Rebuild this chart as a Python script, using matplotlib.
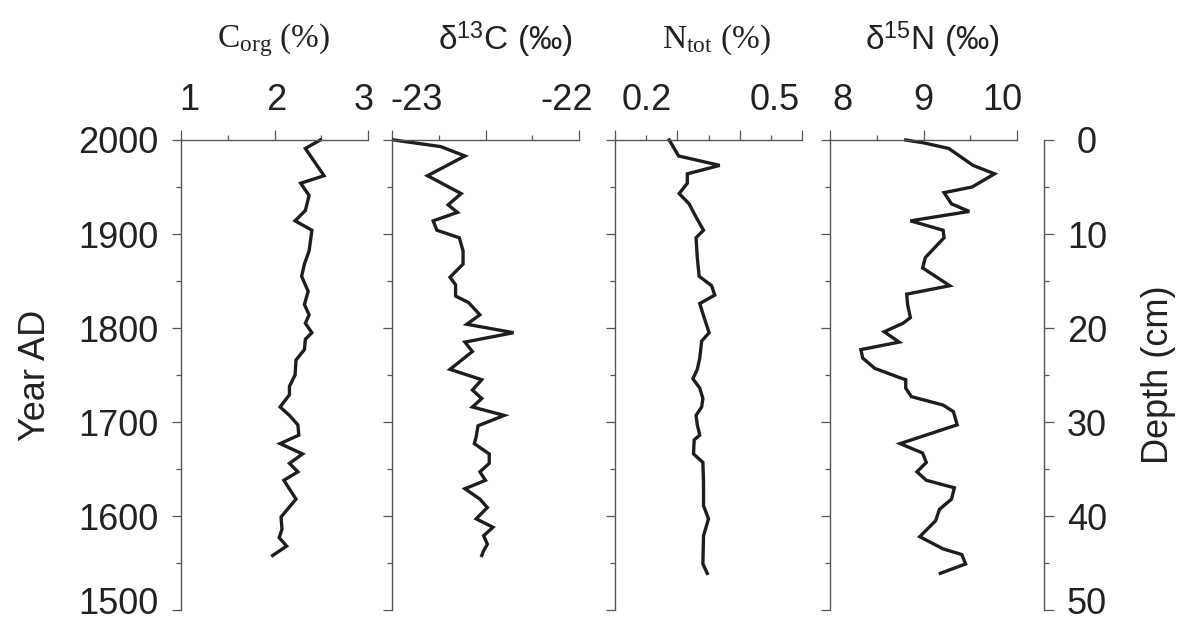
import matplotlib
matplotlib.use('Agg')
import matplotlib.pyplot as plt
from matplotlib.ticker import MultipleLocator, FixedLocator
from matplotlib.transforms import ScaledTranslation

plt.rcParams['font.family'] = ['Liberation Sans', 'DejaVu Sans']
plt.rcParams['mathtext.fontset'] = 'custom'
plt.rcParams['mathtext.rm'] = 'Liberation Serif'
plt.rcParams['mathtext.sf'] = 'Liberation Sans'
plt.rcParams['mathtext.it'] = 'Liberation Serif:italic'

# ---------------- data ----------------
corg_year = [2000, 1991, 1962, 1954, 1941, 1925, 1914, 1904, 1882, 1868, 1855, 1839, 1825,
             1814, 1805, 1795, 1788, 1777, 1766, 1750, 1738, 1729, 1716, 1707, 1697, 1686,
             1677, 1666, 1656, 1647, 1638, 1618, 1599, 1586, 1577, 1568, 1558]
corg = [2.49, 2.33, 2.53, 2.28, 2.37, 2.33, 2.22, 2.40, 2.37, 2.32, 2.29, 2.36, 2.32,
        2.37, 2.33, 2.40, 2.33, 2.32, 2.23, 2.22, 2.16, 2.16, 2.06, 2.16, 2.25, 2.26,
        2.06, 2.30, 2.16, 2.25, 2.10, 2.23, 2.07, 2.08, 2.05, 2.13, 1.98]

d13c_year = [2000, 1993, 1983, 1962, 1943, 1931, 1923, 1914, 1904, 1896, 1882, 1868, 1854,
             1846, 1834, 1827, 1814, 1804, 1795, 1785, 1775, 1756, 1745, 1734, 1725, 1716,
             1707, 1696, 1684, 1677, 1666, 1656, 1647, 1638, 1629, 1618, 1609, 1597, 1588,
             1579, 1570, 1563, 1558]
d13c = [-22.99, -22.74, -22.61, -22.81, -22.63, -22.70, -22.65, -22.78, -22.76, -22.64,
        -22.62, -22.62, -22.69, -22.66, -22.66, -22.59, -22.53, -22.60, -22.35, -22.61,
        -22.57, -22.69, -22.52, -22.57, -22.52, -22.57, -22.40, -22.54, -22.55, -22.56,
        -22.48, -22.48, -22.53, -22.50, -22.61, -22.53, -22.49, -22.55, -22.46, -22.51,
        -22.49, -22.51, -22.52]

ntot_year = [2000, 1983, 1973, 1964, 1954, 1943, 1932, 1918, 1904, 1896, 1875, 1855, 1845,
             1835, 1826, 1811, 1795, 1786, 1768, 1756, 1746, 1736, 1725, 1716, 1707, 1697,
             1686, 1681, 1666, 1657, 1636, 1611, 1597, 1579, 1549, 1539]
ntot = [0.287, 0.302, 0.368, 0.316, 0.316, 0.303, 0.319, 0.330, 0.342, 0.330, 0.332, 0.335,
        0.355, 0.360, 0.336, 0.343, 0.351, 0.339, 0.336, 0.332, 0.325, 0.336, 0.341, 0.339,
        0.330, 0.332, 0.336, 0.327, 0.326, 0.341, 0.342, 0.342, 0.350, 0.342, 0.341, 0.348]

d15n_year = [2000, 1997, 1991, 1973, 1964, 1950, 1944, 1932, 1924, 1914, 1904, 1896, 1875,
             1864, 1845, 1836, 1825, 1811, 1805, 1796, 1785, 1777, 1768, 1757, 1747, 1745,
             1736, 1727, 1718, 1711, 1697, 1677, 1667, 1657, 1647, 1638, 1630, 1618, 1607,
             1595, 1578, 1565, 1559, 1549, 1539]
d15n = [8.81, 9.00, 9.27, 9.53, 9.76, 9.52, 9.22, 9.30, 9.49, 8.86, 9.21, 9.22, 9.02,
        8.99, 9.28, 8.82, 8.83, 8.86, 8.78, 8.58, 8.74, 8.33, 8.35, 8.48, 8.75, 8.81,
        8.81, 8.87, 9.21, 9.32, 9.36, 8.75, 8.99, 9.03, 8.93, 9.03, 9.33, 9.30, 9.17,
        9.13, 8.96, 9.21, 9.41, 9.45, 9.18]

titles = [r'C$_{\mathrm{org}}$ (%)', r'δ$^{\mathsf{13}}$C (‰)',
          r'N$_{\mathrm{tot}}$ (%)', r'δ$^{\mathsf{15}}$N (‰)']
title_fonts = ['Liberation Serif', 'Liberation Sans', 'Liberation Serif', 'Liberation Sans']
xlims = [(1, 3), (-23, -22), (0.2, 0.5), (8, 10)]
major_ticks = [[1, 2, 3], [-23, -22.5, -22], [0.2, 0.3, 0.4, 0.5], [8, 9, 10]]
minor_ticks = [[1.5, 2.5], [-22.75, -22.25], [0.25, 0.35, 0.45], [8.5, 9.5]]
labeled = [{1: '1', 2: '2', 3: '3'}, {-23: '-23', -22: '-22'},
           {0.2: '0.2', 0.5: '0.5'}, {8: '8', 9: '9', 10: '10'}]
label_shift_px = [{1: 8, 2: 2, 3: -4}, {-23: 25, -22: -12},
                  {0.2: 32, 0.5: -27}, {8: 12, 9: 0, 10: -15}]
year_ticks = [2000, 1900, 1800, 1700, 1600, 1500]
depth_ticks = [0, 10, 20, 30, 40, 50]

series = [(corg, corg_year), (d13c, d13c_year), (ntot, ntot_year), (d15n, d15n_year)]

# ---------------- layout ----------------
W, H = 1179, 623
fig = plt.figure(figsize=(W / 100, H / 100), dpi=100)
panel_left_px = [181, 392, 615, 830]
panel_w_px = 187
top_px, bot_px = 140, 610
title_x_px = [274, 505, 716, 932]

spine_col = '#555555'
line_col = '#1e1e1e'
text_col = '#222222'


def nudge_up(label, px):
    label.set_transform(label.get_transform() + ScaledTranslation(0, px / 100, fig.dpi_scale_trans))


axes = []
for i in range(4):
    ax = fig.add_axes([panel_left_px[i] / W, 1 - bot_px / H, panel_w_px / W, (bot_px - top_px) / H])
    vals, yrs = series[i]
    ax.plot(vals, yrs, color=line_col, lw=2.4, solid_joinstyle='miter', clip_on=False)
    ax.set_xlim(*xlims[i])
    ax.set_ylim(1500, 2000)
    for s in ['right', 'bottom']:
        ax.spines[s].set_visible(False)
    for s in ['left', 'top']:
        ax.spines[s].set_color(spine_col)
        ax.spines[s].set_linewidth(1.0)
    ax.xaxis.set_ticks_position('top')
    ax.xaxis.set_label_position('top')
    ax.xaxis.set_major_locator(FixedLocator(major_ticks[i]))
    ax.xaxis.set_minor_locator(FixedLocator(minor_ticks[i]))
    ax.set_xticklabels([labeled[i].get(t, '') for t in major_ticks[i]])
    ax.tick_params(axis='x', which='major', direction='out', length=7, width=0.9,
                   color=spine_col, labelsize=26, pad=9, labelcolor=text_col)
    ax.tick_params(axis='x', which='minor', direction='out', length=3.5, width=0.9,
                   color=spine_col)
    for t, lab in zip(major_ticks[i], ax.get_xticklabels()):
        dx = label_shift_px[i].get(t, 0)
        lab.set_transform(lab.get_transform() + ScaledTranslation(dx / 100, 0, fig.dpi_scale_trans))

    ax.yaxis.set_major_locator(FixedLocator(year_ticks))
    ax.yaxis.set_minor_locator(MultipleLocator(50))
    ax.tick_params(axis='y', which='major', direction='out', length=6.5, width=0.9,
                   color=spine_col, labelsize=26, pad=10, labelcolor=text_col)
    ax.tick_params(axis='y', which='minor', direction='out', length=3.5, width=0.9,
                   color=spine_col)
    if i == 0:
        ax.set_ylabel('Year AD', fontsize=26, labelpad=18, color=text_col)
        for t, lab in zip(year_ticks, ax.get_yticklabels()):
            if t == 1500:
                nudge_up(lab, 9)
    else:
        ax.set_yticklabels([])
    ax.set_facecolor('none')
    fig.text(title_x_px[i] / W, 1 - 40 / H, titles[i], fontsize=24, color=text_col,
             family=title_fonts[i], ha='center', va='center')
    axes.append(ax)

# right depth axis
ax4 = axes[3]
loc = (1044 - panel_left_px[3]) / panel_w_px
sec = ax4.secondary_yaxis(loc, functions=(lambda y: (2000 - y) / 10.0,
                                          lambda d: 2000 - 10.0 * d))
sec.spines['right'].set_color(spine_col)
sec.spines['right'].set_linewidth(1.0)
sec.yaxis.set_major_locator(FixedLocator(depth_ticks))
sec.yaxis.set_minor_locator(MultipleLocator(5))
sec.tick_params(axis='y', which='major', direction='out', length=7, width=0.9,
                color=spine_col, labelsize=26, pad=24, labelcolor=text_col)
sec.tick_params(axis='y', which='minor', direction='out', length=3.5, width=0.9,
                color=spine_col)
for t, lab in zip(depth_ticks, sec.get_yticklabels()):
    lab.set_horizontalalignment('center')
    if t == 50:
        nudge_up(lab, 9)
sec.set_ylabel('Depth (cm)', fontsize=26, labelpad=24, color=text_col)

fig.savefig('out.png', dpi=100, facecolor='white')
